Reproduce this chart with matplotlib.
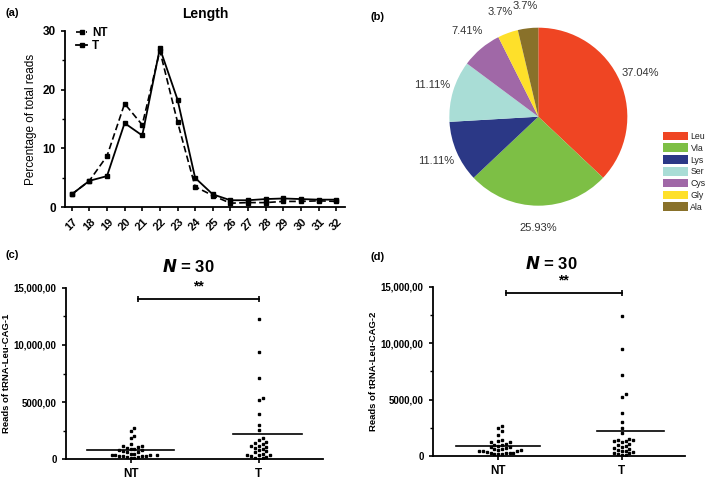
import numpy as np
import matplotlib
matplotlib.use('Agg')
import matplotlib.pyplot as plt
from matplotlib.ticker import MultipleLocator, FixedLocator
from matplotlib.patches import Patch

plt.rcParams['font.family'] = ['Liberation Sans', 'DejaVu Sans']

# (a) read length distribution
lengths = list(range(17, 33))
nt_pct = [2.2, 4.5, 8.7, 17.6, 14.0, 26.6, 14.5, 3.5, 2.0, 0.7, 0.8, 0.8, 1.0, 1.0, 1.1, 1.0]
t_pct = [2.2, 4.5, 5.3, 14.3, 12.2, 27.0, 18.3, 5.0, 2.2, 1.2, 1.2, 1.4, 1.5, 1.4, 1.3, 1.3]

# (b) amino acid share
amino = ['Leu', 'Vla', 'Lys', 'Ser', 'Cys', 'Gly', 'Ala']
amino_counts = [10, 7, 3, 3, 2, 1, 1]
amino_colors = ['#EF4523', '#7DBF45', '#2B3886', '#A9DDD6', '#A068A7', '#FEE02A', '#89712A']

# (c), (d) reads per sample
groups = ['NT', 'T']
cag1_nt = [2700, 2500, 2000, 1900, 1300, 1200, 1200, 1100, 1000, 900, 900, 800, 800, 700, 600,
           600, 500, 500, 400, 400, 400, 350, 300, 300, 300, 250, 200, 200, 150, 100]
cag1_t = [12300, 9400, 7100, 5400, 5200, 4000, 3000, 2600, 1900, 1700, 1500, 1400, 1300, 1200, 1200,
          1100, 1000, 900, 800, 700, 600, 500, 400, 400, 350, 300, 200, 150, 100, 50]
cag2_nt = [2700, 2500, 2200, 1900, 1400, 1300, 1200, 1200, 1100, 1000, 1000, 900, 800, 800, 700,
           600, 600, 500, 500, 400, 400, 400, 350, 300, 300, 300, 250, 200, 200, 150]
cag2_t = [12400, 9450, 7150, 5500, 5250, 3850, 3000, 2500, 2000, 1500, 1400, 1400, 1300, 1300, 1200,
          1100, 1000, 900, 800, 700, 600, 500, 450, 400, 350, 300, 250, 150, 100, 50]

fig = plt.figure(figsize=(7.09, 4.79), dpi=100)

# ---------- (a)
ax = fig.add_axes([0.0917, 0.5672, 0.3949, 0.3688])
ax.plot(lengths, nt_pct, color='black', lw=1.2, ls=(0, (4, 2)), marker='s', ms=2.2, label='NT')
ax.plot(lengths, t_pct, color='black', lw=1.3, marker='s', ms=2.2, label='T')
ax.set_xlim(16.62, 32.5)
ax.set_ylim(0, 30)
ax.set_xticks(lengths)
ax.set_xticklabels([str(v) for v in lengths], rotation=45, fontsize=8, fontweight='bold')
ax.yaxis.set_major_locator(FixedLocator([0, 10, 20, 30]))
ax.yaxis.set_minor_locator(MultipleLocator(5))
for t in ax.get_yticklabels():
    t.set_fontweight('bold')
    t.set_fontsize(8.5)
ax.tick_params(width=1.2, length=3)
ax.tick_params(which='minor', width=1.0, length=2)
ax.spines['top'].set_visible(False)
ax.spines['right'].set_visible(False)
ax.spines['left'].set_linewidth(1.3)
ax.spines['bottom'].set_linewidth(1.3)
ax.set_ylabel('Percentage of total reads', fontsize=8.5, labelpad=4)
ax.set_title('Length', fontsize=10, fontweight='bold', pad=9)
ax.legend(loc='upper left', bbox_to_anchor=(0.0, 1.08), frameon=False, handlelength=1.0,
          handletextpad=0.4, labelspacing=0.1, prop={'weight': 'bold', 'size': 8.5})
fig.text(0.008, 0.972, '(a)', fontsize=8, fontweight='bold', va='center')

# ---------- (b)
axp = fig.add_axes([0.571, 0.4777, 0.3766, 0.5574])
axp.pie(amino_counts, colors=amino_colors, startangle=90, counterclock=False,
        autopct='%1.2f%%', pctdistance=1.25, radius=1.0,
        textprops={'fontsize': 8, 'color': '#333333'},
        wedgeprops={'linewidth': 0})
for t in axp.texts:
    if t.get_text() == '3.70%':
        t.set_text('3.7%')
axp.set_xlim(-1.5, 1.5)
axp.set_ylim(-1.5, 1.5)
axp.set_aspect('equal')
axp.axis('off')
handles = [Patch(facecolor=c, edgecolor='none', label=n) for c, n in zip(amino_colors, amino)]
fig.legend(handles=handles, loc='upper left', bbox_to_anchor=(0.935, 0.725), frameon=False,
           handlelength=2.9, handleheight=1.15, handletextpad=0.25, labelspacing=0.28,
           borderpad=0, borderaxespad=0, prop={'size': 6.3}, labelcolor='#222222')
fig.text(0.523, 0.965, '(b)', fontsize=8, fontweight='bold', va='center')


def swarm_x(axis, center, vals, step_px=3.8):
    # simple beeswarm: push each dot sideways until it does not touch the others
    p0 = axis.transData.transform((0, 0))
    p1 = axis.transData.transform((1, 1))
    sx = p1[0] - p0[0]
    sy = p1[1] - p0[1]
    order = np.argsort(vals)
    placed = []
    xs = np.zeros(len(vals))
    for i in order:
        yp = vals[i] * sy
        k = 0
        while True:
            cand = [0] if k == 0 else [k, -k]
            done = False
            for c in cand:
                xp = c * step_px
                if all((xp - a) ** 2 + (yp - b) ** 2 >= step_px ** 2 for a, b in placed):
                    placed.append((xp, yp))
                    xs[i] = center + xp / sx
                    done = True
                    break
            if done:
                break
            k += 1
    return xs


def dot_panel(rect, nt, tt, ylabel, bracket_y, xl, letter, letter_pos, title_pos):
    axd = fig.add_axes(rect)
    axd.set_xlim(*xl)
    axd.set_ylim(0, 15000)
    for i, vals in enumerate([nt, tt]):
        vals = np.array(vals, dtype=float)
        xs = swarm_x(axd, i, vals)
        axd.plot(xs, vals, ls='none', marker='s', ms=2.0, color='black')
        m = vals.mean()
        lo, hi = (-0.34, 0.34) if i == 0 else (-0.2, 0.34)
        axd.plot([i + lo, i + hi], [m, m], color='black', lw=1.2)
    axd.plot([0.06, 1.0], [bracket_y, bracket_y], color='black', lw=1.3, marker='|', ms=5, mew=1.2)
    axd.text(0.53, bracket_y + 500, '**', ha='center', va='bottom', fontsize=10, fontweight='bold')
    axd.set_xticks([0, 1])
    axd.set_xticklabels(groups, fontsize=8.5, fontweight='bold')
    axd.yaxis.set_major_locator(FixedLocator([0, 5000, 10000, 15000]))
    axd.yaxis.set_minor_locator(MultipleLocator(2500))
    axd.set_yticklabels(['0', '5000,00', '10,000,00', '15,000,00'], fontsize=7, fontweight='bold')
    axd.tick_params(width=1.2, length=3)
    axd.tick_params(which='minor', width=1.0, length=2)
    axd.spines['top'].set_visible(False)
    axd.spines['right'].set_visible(False)
    axd.spines['left'].set_linewidth(1.3)
    axd.spines['bottom'].set_linewidth(1.3)
    axd.set_ylabel(ylabel, fontsize=6.8, fontweight='bold', labelpad=2)
    fig.text(title_pos[0], title_pos[1], r'$\boldsymbol{N}$ = 30', fontsize=12, fontweight='bold',
             ha='center', va='center')
    fig.text(letter_pos[0], letter_pos[1], letter, fontsize=8, fontweight='bold', va='center')


dot_panel([0.0927, 0.0411, 0.3629, 0.3583], cag1_nt, cag1_t, 'Reads of tRNA-Leu-CAG-1', 14000,
          (-0.505, 1.5), '(c)', (0.008, 0.468), (0.265, 0.443))
dot_panel([0.6103, 0.048, 0.3558, 0.3535], cag2_nt, cag2_t, 'Reads of tRNA-Leu-CAG-2', 14470,
          (-0.53, 1.51), '(d)', (0.523, 0.464), (0.778, 0.45))

fig.savefig('out.png', dpi=100)
